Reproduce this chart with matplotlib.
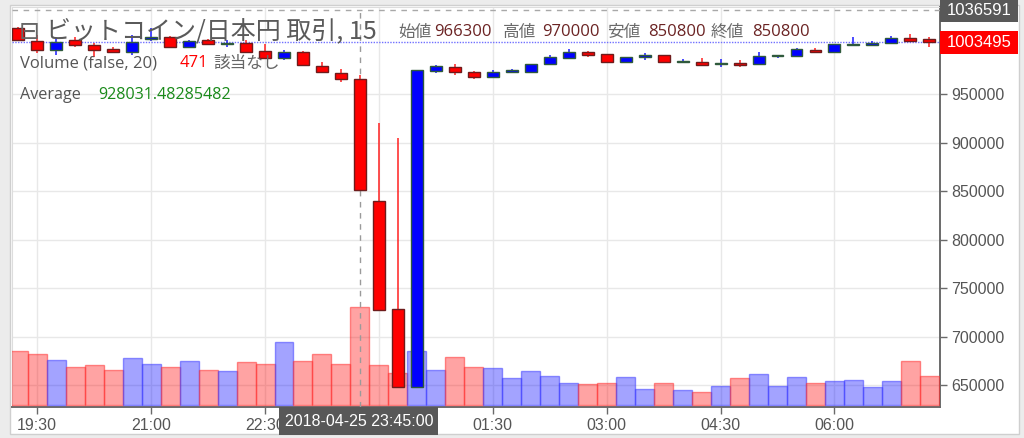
import numpy as np
import pandas as pd
import matplotlib
matplotlib.use('Agg')
import matplotlib.pyplot as plt
import matplotlib.dates as mdates
import matplotlib.transforms as mtransforms
from matplotlib.patches import Rectangle

# ---------------- data ----------------
times = pd.date_range('2018-04-25 19:15', periods=49, freq='15min')
opens = [1018100, 1005300, 995700, 1006000, 1000900, 996400, 993300, 1006800, 1009400, 998500,
         1006000, 1002300, 1003300, 995000, 987200, 994000, 979500, 972300, 966300, 840200,
         728100, 648200, 974000, 978500, 973300, 968200, 972700, 972700, 981000, 987800,
         994000, 991300, 983600, 988800, 990600, 983300, 983600, 981300, 982600, 981000,
         989500, 989500, 995700, 993300, 1000900, 1000900, 1002600, 1007800, 1006800]
highs = [1019000, 1011200, 1008100, 1009400, 1002900, 998500, 1011200, 1018100, 1010000, 1006000,
         1007500, 1006000, 1006000, 1002000, 995500, 994500, 983600, 975800, 970000, 920000,
         904600, 975500, 980000, 981300, 973800, 975100, 976100, 981500, 990600, 996400,
         994300, 991600, 988500, 992600, 991000, 986100, 987200, 986100, 985400, 993600,
         991000, 997500, 997500, 1002300, 1008800, 1005300, 1010000, 1012200, 1009400]
lows = [1005000, 992900, 990600, 999100, 988800, 992300, 990600, 1005000, 998500, 997800,
        1000500, 999100, 993500, 986500, 985500, 979500, 972000, 963000, 850800, 727400,
        648200, 647500, 972300, 969900, 965500, 967500, 972000, 972000, 980500, 987500,
        988800, 983000, 982000, 985400, 982000, 982000, 980000, 978500, 978500, 980500,
        987800, 989000, 992900, 993000, 1000500, 999800, 1002300, 1005000, 999100]
closes = [1006000, 995700, 1004300, 1000900, 995700, 994000, 1004300, 1009400, 999100, 1005300,
          1001600, 1002800, 994000, 987200, 994000, 980000, 972700, 965500, 850800, 727400,
          648200, 975100, 979500, 972700, 968200, 973300, 975100, 981000, 988200, 994000,
          990600, 983300, 988200, 990600, 983600, 984400, 980200, 982600, 980200, 989500,
          990600, 996400, 994000, 1001900, 1001900, 1002600, 1007800, 1005300, 1003495]
volumes = [260, 247, 218, 185, 191, 170, 227, 199, 185, 212,
           170, 164, 206, 199, 302, 212, 247, 199, 471, 191,
           156, 260, 170, 233, 185, 177, 128, 162, 141, 106,
           100, 106, 135, 79, 106, 72, 64, 92, 129, 148,
           92, 135, 106, 114, 121, 85, 114, 212, 141]
tick_times = ['2018-04-25 19:30', '2018-04-25 21:00', '2018-04-25 22:30', '2018-04-26 00:00',
              '2018-04-26 01:30', '2018-04-26 03:00', '2018-04-26 04:30', '2018-04-26 06:00']
y_ticks = [650000, 700000, 750000, 800000, 850000, 900000, 950000]
last_price = 1003495
cursor_price = 1036591
cursor_time = '2018-04-25 23:45'
title = 'ビットコイン/日本円 取引, 15'
ohlc_labels = ['始値', '高値', '安値', '終値']
ohlc_values = ['966300', '970000', '850800', '850800']
volume_label = 'Volume (false, 20)'
volume_value = '471'
volume_na = '該当なし'
avg_label = 'Average'
avg_value = '928031.48285482'

# ---------------- figure ----------------
W, H = 1024, 438
fig = plt.figure(figsize=(W / 100, H / 100), dpi=100)
fig.patch.set_facecolor('#ececec')

def fx(x):
    return x / W

def fy(y):
    return 1 - y / H

# white chart frame
fig.add_artist(Rectangle((fx(10), fy(434)), fx(1019) - fx(10), fy(5) - fy(434),
                         transform=fig.transFigure, facecolor='white',
                         edgecolor='#cfcfcf', linewidth=1, zorder=-10))

L, R, T, B = 12, 940, 7, 406.7
pos = [fx(L), fy(B), fx(R) - fx(L), fy(T) - fy(B)]

ax = fig.add_axes(pos, zorder=0)
ax.set_facecolor('white')
axv = fig.add_axes(pos, zorder=1)
axv.set_facecolor('none')
axv.axis('off')
axc = fig.add_axes(pos, zorder=2, sharex=ax, sharey=ax)
axc.set_facecolor('none')
axc.axis('off')

tn = mdates.date2num(times)
step = 1 / 96.0
xmin = tn[0] - 0.33 * step
xmax = tn[-1] + 0.56 * step

o = np.array(opens, float)
h = np.array(highs, float)
l = np.array(lows, float)
c = np.array(closes, float)
up = c >= o

# grid / axes styling
ax.set_xlim(xmin, xmax)
ax.set_ylim(627600, 1040100)
ax.yaxis.tick_right()
ax.set_yticks(y_ticks)
ax.set_yticklabels([str(v) for v in y_ticks])
tick_ts = pd.to_datetime(tick_times)
ax.set_xticks(mdates.date2num(tick_ts))
cursor_ts = pd.Timestamp(cursor_time)
# the label under the crosshair time box is hidden (as in the chart)
xlabels = ['' if abs((t - cursor_ts).total_seconds()) < 1800 else t.strftime('%H:%M')
           for t in tick_ts]
ax.set_xticklabels(xlabels)
ax.grid(True, color='#e8e8e8', linewidth=1)
ax.set_axisbelow(True)
for s in ['left', 'top']:
    ax.spines[s].set_color('#dddddd')
    ax.spines[s].set_linewidth(0.8)
for s in ['right', 'bottom']:
    ax.spines[s].set_color('#6a6a6a')
    ax.spines[s].set_linewidth(1.4)
ax.tick_params(axis='both', colors='#6a6a6a', labelcolor='#555555', length=5, width=1,
               labelsize=11.5)
ax.tick_params(axis='y', pad=3)
ax.tick_params(axis='x', pad=3)
for lab in ax.get_xticklabels() + ax.get_yticklabels():
    lab.set_fontfamily('Liberation Sans')

# volume bars
axv.set_xlim(xmin, xmax)
axv.set_ylim(-8.2, 1919)
vcol = [(0, 0, 1, 0.36) if u else (1, 0, 0, 0.36) for u in up]
vedge = [(0.25, 0.25, 1, 0.55) if u else (1, 0.2, 0.2, 0.55) for u in up]
axv.bar(tn, volumes, width=step, bottom=0, color=vcol, edgecolor=vedge, linewidth=1,
        align='center')

# candles
wick_col = ['#1a1aff' if u else '#ff2020' for u in up]
axc.vlines(tn, l, h, colors=wick_col, linewidth=1.1, zorder=2)
body_col = ['#0000ff' if u else '#ff0000' for u in up]
body_edge = ['#2f5a3c' if u else '#6e1c1c' for u in up]
axc.bar(tn, np.abs(c - o), bottom=np.minimum(o, c), width=0.63 * step, color=body_col,
        edgecolor=body_edge, linewidth=1, zorder=3, align='center')

# last price dotted line
axc.axhline(last_price, color='#7070ff', linestyle=(0, (1, 1)), linewidth=1, zorder=1)
# crosshair
ct = mdates.date2num(cursor_ts)
axc.axvline(ct, color='#9a9a9a', linestyle=(0, (4, 4)), linewidth=1, zorder=1)
axc.axhline(cursor_price, color='#a8a8a8', linestyle=(0, (4, 4)), linewidth=1, zorder=1)

# price labels on the right axis
blend = mtransforms.blended_transform_factory(ax.transAxes, ax.transData)
for price, bg in [(cursor_price, '#585858'), (last_price, '#ff0000')]:
    tr = fig.dpi_scale_trans + mtransforms.ScaledTranslation(1.0, price, blend)
    fig.add_artist(Rectangle((0, -0.115), 0.78, 0.23, transform=tr, facecolor=bg,
                             edgecolor='none', zorder=20, clip_on=False))
    fig.text(0.39, 0.0, str(price), transform=tr, ha='center', va='center',
             color='white', fontsize=12, family='Liberation Sans', zorder=21)

# time label on crosshair
blendx = mtransforms.blended_transform_factory(ax.transData, fig.transFigure)
trx = fig.dpi_scale_trans + mtransforms.ScaledTranslation(ct, fy(421), blendx)
fig.add_artist(Rectangle((-0.805, -0.14), 1.59, 0.28, transform=trx, facecolor='#585858',
                         edgecolor='none', zorder=20, clip_on=False))
fig.text(-0.01, 0.0, cursor_ts.strftime('%Y-%m-%d %H:%M:%S'), transform=trx,
         ha='center', va='center', color='white', fontsize=11.5, family='Liberation Sans',
         zorder=21)

# legend texts
cjk = ['Noto Sans CJK JP', 'DejaVu Sans']
fig.text(fx(19), fy(32), '⊟', ha='left', va='center', fontsize=18, color='#666666',
         family='DejaVu Sans', zorder=15)
fig.text(fx(46), fy(31), title, ha='left', va='center', fontsize=18, color='#5a5a5a',
         family=cjk, zorder=15)
lab_x = [398, 503, 607, 711]
val_x = [434, 542, 648, 752]
for lx, vx, lt, vt in zip(lab_x, val_x, ohlc_labels, ohlc_values):
    fig.text(fx(lx), fy(32), lt, ha='left', va='center', fontsize=12, color='#6a6a6a',
             family=cjk, zorder=15)
    fig.text(fx(vx), fy(32), vt, ha='left', va='center', fontsize=12, color='#6b2323',
             family=['Open Sans'], zorder=15)

fig.text(fx(20), fy(63), volume_label, ha='left', va='center', fontsize=12, color='#555555',
         family=['Open Sans'], zorder=15)
fig.text(fx(180), fy(63), volume_value, ha='left', va='center', fontsize=12, color='#ff0000',
         family=['Open Sans'], zorder=15)
fig.text(fx(213), fy(63), volume_na, ha='left', va='center', fontsize=12, color='#666666',
         family=cjk, zorder=15)
fig.text(fx(20), fy(95), avg_label, ha='left', va='center', fontsize=11.6, color='#555555',
         family=['Open Sans'], zorder=15)
fig.text(fx(98), fy(95), avg_value, ha='left', va='center', fontsize=11.6, color='#1a8a1a',
         family=['Open Sans'], zorder=15)

fig.savefig('out.png', dpi=100, facecolor=fig.get_facecolor())
